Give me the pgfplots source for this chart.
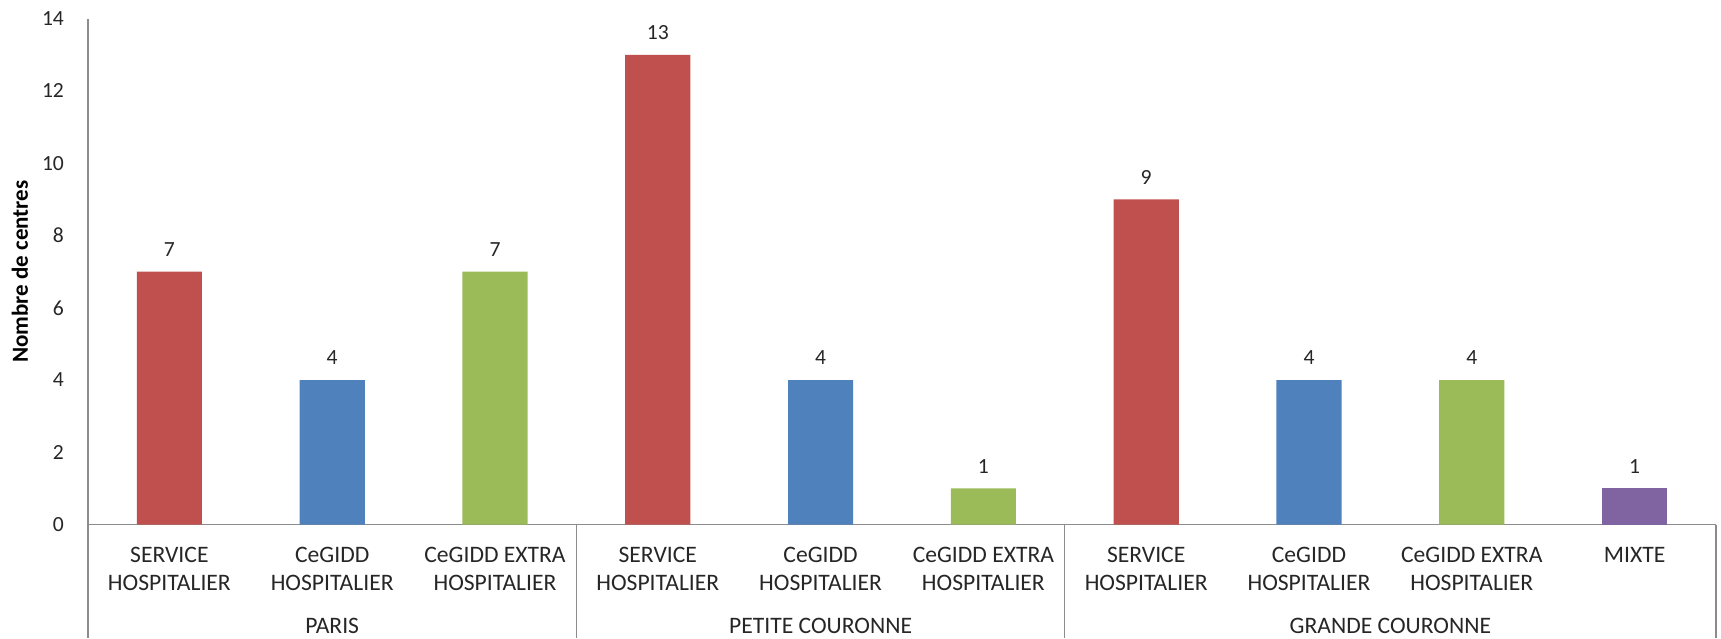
\documentclass[border=0pt]{standalone}
\usepackage{pgfplots}
\pgfplotsset{compat=1.18}
\usepackage{fontspec}
\setmainfont{Carlito}
\definecolor{cred}{HTML}{C0504D}
\definecolor{cblue}{HTML}{4F81BD}
\definecolor{cgreen}{HTML}{9BBB59}
\definecolor{cpurple}{HTML}{8064A2}
\definecolor{axgray}{HTML}{8C8C8C}
\begin{document}
\begin{tikzpicture}
\begin{axis}[
  scale only axis,
  width=814pt, height=252.95pt,
  xmin=-0.5, xmax=9.5, ymin=0, ymax=14,
  axis x line*=bottom, axis y line*=left,
  axis line style={draw=axgray, line width=0.6pt, -},
  ytick={0,2,...,14},
  major tick length=0pt,
  xtick={0,...,9},
  xticklabels={{SERVICE\\HOSPITALIER},{CeGIDD\\HOSPITALIER},{CeGIDD EXTRA\\HOSPITALIER},
               {SERVICE\\HOSPITALIER},{CeGIDD\\HOSPITALIER},{CeGIDD EXTRA\\HOSPITALIER},
               {SERVICE\\HOSPITALIER},{CeGIDD\\HOSPITALIER},{CeGIDD EXTRA\\HOSPITALIER},
               {MIXTE\\\strut}},
  xticklabel style={align=center, font=\fontsize{11.8}{13.8}\selectfont, text=black!85, anchor=north, yshift=-8pt},
  yticklabel style={font=\fontsize{10.8}{13}\selectfont, xshift=-8.5pt, text=black!85},
  /pgf/number format/assume math mode=true,
  ylabel={\textbf{Nombre de centres}},
  ylabel style={font=\fontsize{11.5}{14}\selectfont, at={(axis description cs:-0.0418,0.5)}, anchor=center},
  ybar, bar width=0.4, bar shift=0pt,
  nodes near coords,
  every node near coord/.append style={font=\fontsize{10.8}{13}\selectfont, text=black!85, yshift=4pt},
  clip=false,
]
\addplot[fill=cred, draw=none] coordinates {(0,7) (3,13) (6,9)};
\addplot[fill=cblue, draw=none] coordinates {(1,4) (4,4) (7,4)};
\addplot[fill=cgreen, draw=none] coordinates {(2,7) (5,1) (8,4)};
\addplot[fill=cpurple, draw=none] coordinates {(9,1)};
\draw[axgray, line width=0.6pt] (axis cs:-0.5,0) -- ++(0pt,-56.7pt);
\draw[axgray, line width=0.6pt] (axis cs:2.5,0) -- ++(0pt,-56.7pt);
\draw[axgray, line width=0.6pt] (axis cs:5.5,0) -- ++(0pt,-56.7pt);
\draw[axgray, line width=0.6pt] (axis cs:9.5,0) -- ++(0pt,-56.7pt);
\node[inner sep=0pt, font=\fontsize{11.8}{13.8}\selectfont, text=black!85] at (axis cs:1,0) [yshift=-50.5pt] {PARIS};
\node[inner sep=0pt, font=\fontsize{11.8}{13.8}\selectfont, text=black!85] at (axis cs:4,0) [yshift=-50.5pt] {PETITE COURONNE};
\node[inner sep=0pt, font=\fontsize{11.8}{13.8}\selectfont, text=black!85] at (axis cs:7.5,0) [yshift=-50.5pt] {GRANDE COURONNE};
\path (axis cs:-0.5,0) ++(-44pt,-56.7pt) rectangle ++(860.5pt,319pt);
\end{axis}
\end{tikzpicture}
\end{document}
